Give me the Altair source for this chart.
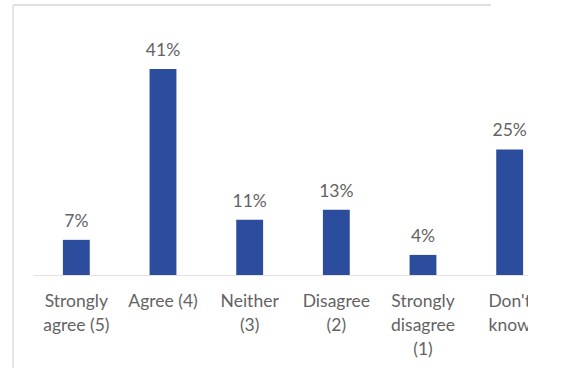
import altair as alt
import pandas as pd

# Survey responses and their shares (%)
categories = [
    "Strongly\nagree (5)",
    "Agree (4)",
    "Neither\n(3)",
    "Disagree\n(2)",
    "Strongly\ndisagree\n(1)",
    "Don't\nknow",
]
shares = [7, 41, 11, 13, 4, 25]

df = pd.DataFrame({"category": categories, "share": shares})
df["label"] = df["share"].astype(str) + "%"

FONT = "Lato"
TEXT_GRAY = "#636363"
BAR_BLUE = "#2c4d9e"

x_enc = alt.X(
    "category:N",
    sort=categories,
    title=None,
    scale=alt.Scale(paddingInner=0.69, paddingOuter=0.345),
    axis=alt.Axis(
        labelAngle=0,
        labelExpr="split(datum.label, '\\n')",
        labelFont=FONT,
        labelFontSize=17.5,
        labelColor=TEXT_GRAY,
        labelLineHeight=24,
        labelBaseline="top",
        labelPadding=17,
        labelLimit=0,
        ticks=False,
        domainColor="#e2e2e2",
        domainWidth=1,
        zindex=0,
    ),
)
y_enc = alt.Y(
    "share:Q",
    scale=alt.Scale(domain=[0, 45], nice=False),
    axis=None,
)

bars = alt.Chart(df).mark_bar(color=BAR_BLUE).encode(x=x_enc, y=y_enc)

labels = alt.Chart(df).mark_text(
    font=FONT, fontSize=17.5, color=TEXT_GRAY, baseline="alphabetic", dy=-13
).encode(x=alt.X("category:N", sort=categories), y="share:Q", text="label:N")

# Thin frame lines along the top and left edge
frame_top = alt.Chart(df).mark_rule(color="#e0e0e0", strokeWidth=1.5).encode(
    x=alt.value(-20), x2=alt.value(458), y=alt.value(-44)
)
frame_left = alt.Chart(df).mark_rule(color="#e6e6e6", strokeWidth=1.5).encode(
    x=alt.value(-20), y=alt.value(-44), y2=alt.value(319)
)

# White strip at the right edge that trims the last label
edge = alt.Chart(df).mark_rect(color="white").encode(
    x=alt.value(495), x2=alt.value(540), y=alt.value(-49), y2=alt.value(320)
)

chart = (
    alt.layer(frame_top, frame_left, bars, labels, edge)
    .properties(
        width=520,
        height=226,
        autosize=alt.AutoSizeParams(type="none"),
        padding={"left": 33, "top": 49, "right": 12, "bottom": 93},
        background="white",
    )
    .configure_view(stroke=None)
)

chart.save("out.html", embed_options={"renderer": "svg", "actions": False})
